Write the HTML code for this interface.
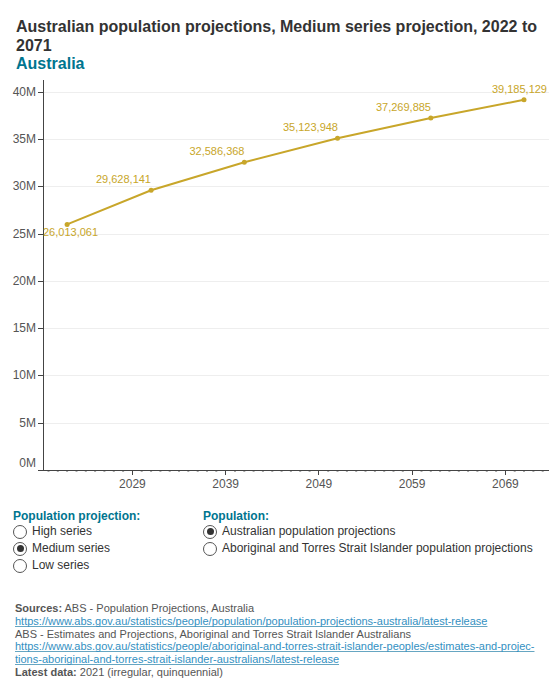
<!DOCTYPE html>
<html><head><meta charset="utf-8">
<style>
html,body{margin:0;padding:0;background:#fff;}
body{width:560px;height:700px;position:relative;overflow:hidden;font-family:"Liberation Sans",sans-serif;color:#333;}
.title{position:absolute;left:16px;top:17px;width:540px;font-size:16px;font-weight:bold;line-height:18.4px;color:#333;}
.title.sub{color:#00758f;}
svg{position:absolute;left:0;top:0;}
.g{stroke:#eeeeee;stroke-width:1;}
.t{stroke:#444;stroke-width:1;}
.m{fill:#aaa;}
.ax{stroke:#444;stroke-width:1;}
.yl{font-size:12px;fill:#555;text-anchor:end;font-family:"Liberation Sans",sans-serif;}
.xl{font-size:12px;fill:#555;text-anchor:middle;font-family:"Liberation Sans",sans-serif;}
.dl{font-size:11px;fill:#c8a62a;text-anchor:end;font-family:"Liberation Sans",sans-serif;}
.line{fill:none;stroke:#c8a62a;stroke-width:2;}
.pt{fill:#c8a62a;}
.leg{position:absolute;top:508px;font-size:12px;line-height:17px;}
.leg h4{margin:0 0 -2px 0;font-size:12px;font-weight:bold;color:#00758f;line-height:17px;}
.r{display:flex;align-items:center;height:17px;}
.rb{width:14px;height:14px;border:1px solid #555;border-radius:50%;box-sizing:border-box;margin-right:5px;position:relative;flex:none;}
.rb.on::after{content:"";position:absolute;left:2.5px;top:2.5px;width:7px;height:7px;border-radius:50%;background:#333;}
.src{position:absolute;left:15px;top:602px;font-size:11px;line-height:12.8px;color:#555;width:540px;}
.src a{color:#3290c2;text-decoration:underline;text-decoration-color:#66a6c2;text-decoration-skip-ink:none;}
.src b{color:#555;}
</style></head><body>
<div class="title" style="top:18px">Australian population projections, Medium series projection, 2022 to</div>
<div class="title" style="top:37px">2071</div>
<div class="title sub" style="top:55px">Australia</div>
<svg width="560" height="500" viewBox="0 0 560 500">
<line x1="44" x2="549" y1="423.5" y2="423.5" class="g"/>
<line x1="44" x2="549" y1="375.5" y2="375.5" class="g"/>
<line x1="44" x2="549" y1="328.5" y2="328.5" class="g"/>
<line x1="44" x2="549" y1="281.5" y2="281.5" class="g"/>
<line x1="44" x2="549" y1="234.5" y2="234.5" class="g"/>
<line x1="44" x2="549" y1="186.5" y2="186.5" class="g"/>
<line x1="44" x2="549" y1="139.5" y2="139.5" class="g"/>
<line x1="44" x2="549" y1="92.5" y2="92.5" class="g"/>
<line x1="38" x2="43" y1="470.5" y2="470.5" class="t"/>
<line x1="38" x2="43" y1="423.5" y2="423.5" class="t"/>
<line x1="38" x2="43" y1="375.5" y2="375.5" class="t"/>
<line x1="38" x2="43" y1="328.5" y2="328.5" class="t"/>
<line x1="38" x2="43" y1="281.5" y2="281.5" class="t"/>
<line x1="38" x2="43" y1="234.5" y2="234.5" class="t"/>
<line x1="38" x2="43" y1="186.5" y2="186.5" class="t"/>
<line x1="38" x2="43" y1="139.5" y2="139.5" class="t"/>
<line x1="38" x2="43" y1="92.5" y2="92.5" class="t"/>
<line x1="43.5" x2="43.5" y1="80" y2="471" class="ax"/>
<line x1="38" x2="549" y1="470.5" y2="470.5" class="ax"/>
<rect x="47.5" y="471" width="2" height="1" class="m"/>
<rect x="56.8" y="471" width="2" height="1" class="m"/>
<rect x="66.1" y="471" width="2" height="1" class="m"/>
<rect x="75.5" y="471" width="2" height="1" class="m"/>
<rect x="84.8" y="471" width="2" height="1" class="m"/>
<rect x="94.1" y="471" width="2" height="1" class="m"/>
<rect x="103.4" y="471" width="2" height="1" class="m"/>
<rect x="112.8" y="471" width="2" height="1" class="m"/>
<rect x="122.1" y="471" width="2" height="1" class="m"/>
<line x1="132.5" x2="132.5" y1="470" y2="475" class="t"/>
<rect x="140.7" y="471" width="2" height="1" class="m"/>
<rect x="150.1" y="471" width="2" height="1" class="m"/>
<rect x="159.4" y="471" width="2" height="1" class="m"/>
<rect x="168.7" y="471" width="2" height="1" class="m"/>
<rect x="178.0" y="471" width="2" height="1" class="m"/>
<rect x="187.3" y="471" width="2" height="1" class="m"/>
<rect x="196.7" y="471" width="2" height="1" class="m"/>
<rect x="206.0" y="471" width="2" height="1" class="m"/>
<rect x="215.3" y="471" width="2" height="1" class="m"/>
<line x1="225.5" x2="225.5" y1="470" y2="475" class="t"/>
<rect x="234.0" y="471" width="2" height="1" class="m"/>
<rect x="243.3" y="471" width="2" height="1" class="m"/>
<rect x="252.6" y="471" width="2" height="1" class="m"/>
<rect x="261.9" y="471" width="2" height="1" class="m"/>
<rect x="271.3" y="471" width="2" height="1" class="m"/>
<rect x="280.6" y="471" width="2" height="1" class="m"/>
<rect x="289.9" y="471" width="2" height="1" class="m"/>
<rect x="299.2" y="471" width="2" height="1" class="m"/>
<rect x="308.6" y="471" width="2" height="1" class="m"/>
<line x1="318.5" x2="318.5" y1="470" y2="475" class="t"/>
<rect x="327.2" y="471" width="2" height="1" class="m"/>
<rect x="336.5" y="471" width="2" height="1" class="m"/>
<rect x="345.9" y="471" width="2" height="1" class="m"/>
<rect x="355.2" y="471" width="2" height="1" class="m"/>
<rect x="364.5" y="471" width="2" height="1" class="m"/>
<rect x="373.9" y="471" width="2" height="1" class="m"/>
<rect x="383.2" y="471" width="2" height="1" class="m"/>
<rect x="392.5" y="471" width="2" height="1" class="m"/>
<rect x="401.8" y="471" width="2" height="1" class="m"/>
<line x1="412.5" x2="412.5" y1="470" y2="475" class="t"/>
<rect x="420.5" y="471" width="2" height="1" class="m"/>
<rect x="429.8" y="471" width="2" height="1" class="m"/>
<rect x="439.1" y="471" width="2" height="1" class="m"/>
<rect x="448.4" y="471" width="2" height="1" class="m"/>
<rect x="457.8" y="471" width="2" height="1" class="m"/>
<rect x="467.1" y="471" width="2" height="1" class="m"/>
<rect x="476.4" y="471" width="2" height="1" class="m"/>
<rect x="485.8" y="471" width="2" height="1" class="m"/>
<rect x="495.1" y="471" width="2" height="1" class="m"/>
<line x1="505.5" x2="505.5" y1="470" y2="475" class="t"/>
<rect x="513.7" y="471" width="2" height="1" class="m"/>
<rect x="523.0" y="471" width="2" height="1" class="m"/>
<rect x="532.4" y="471" width="2" height="1" class="m"/>
<rect x="541.7" y="471" width="2" height="1" class="m"/>
<text x="36" y="427" class="yl">5M</text>
<text x="36" y="379" class="yl">10M</text>
<text x="36" y="332" class="yl">15M</text>
<text x="36" y="285" class="yl">20M</text>
<text x="36" y="238" class="yl">25M</text>
<text x="36" y="190" class="yl">30M</text>
<text x="36" y="143" class="yl">35M</text>
<text x="36" y="96" class="yl">40M</text>
<text x="36" y="466.8" class="yl">0M</text>
<text x="132.4" y="488" class="xl">2029</text>
<text x="225.7" y="488" class="xl">2039</text>
<text x="318.9" y="488" class="xl">2049</text>
<text x="412.1" y="488" class="xl">2059</text>
<text x="505.4" y="488" class="xl">2069</text>
<polyline points="67.1,224.4 151.1,190.2 244.3,162.2 337.5,138.2 430.8,117.9 524.0,99.8" class="line"/>
<circle cx="67.1" cy="224.4" r="2.5" class="pt"/>
<circle cx="151.1" cy="190.2" r="2.5" class="pt"/>
<circle cx="244.3" cy="162.2" r="2.5" class="pt"/>
<circle cx="337.5" cy="138.2" r="2.5" class="pt"/>
<circle cx="430.8" cy="117.9" r="2.5" class="pt"/>
<circle cx="524.0" cy="99.8" r="2.5" class="pt"/>
<text x="43" y="236" class="dl" style="text-anchor:start">26,013,061</text>
<text x="151" y="183.2" class="dl">29,628,141</text>
<text x="244.5" y="155.2" class="dl">32,586,368</text>
<text x="338" y="131.2" class="dl">35,123,948</text>
<text x="431" y="111.2" class="dl">37,269,885</text>
<text x="547" y="93.2" class="dl">39,185,129</text>
</svg>
<div class="leg" style="left:13px">
<h4>Population projection:</h4>
<div class="r"><span class="rb"></span>High series</div>
<div class="r"><span class="rb on"></span>Medium series</div>
<div class="r"><span class="rb"></span>Low series</div>
</div>
<div class="leg" style="left:203px">
<h4>Population:</h4>
<div class="r"><span class="rb on"></span>Australian population projections</div>
<div class="r"><span class="rb"></span>Aboriginal and Torres Strait Islander population projections</div>
</div>
<div class="src">
<b>Sources:</b> ABS - Population Projections, Australia<br>
<a>https://www.abs.gov.au/statistics/people/population/population-projections-australia/latest-release</a><br>
ABS - Estimates and Projections, Aboriginal and Torres Strait Islander Australians<br>
<a>https://www.abs.gov.au/statistics/people/aboriginal-and-torres-strait-islander-peoples/estimates-and-projec-<br>tions-aboriginal-and-torres-strait-islander-australians/latest-release</a><br>
<b>Latest data:</b> 2021 (irregular, quinquennial)
</div>
</body></html>
